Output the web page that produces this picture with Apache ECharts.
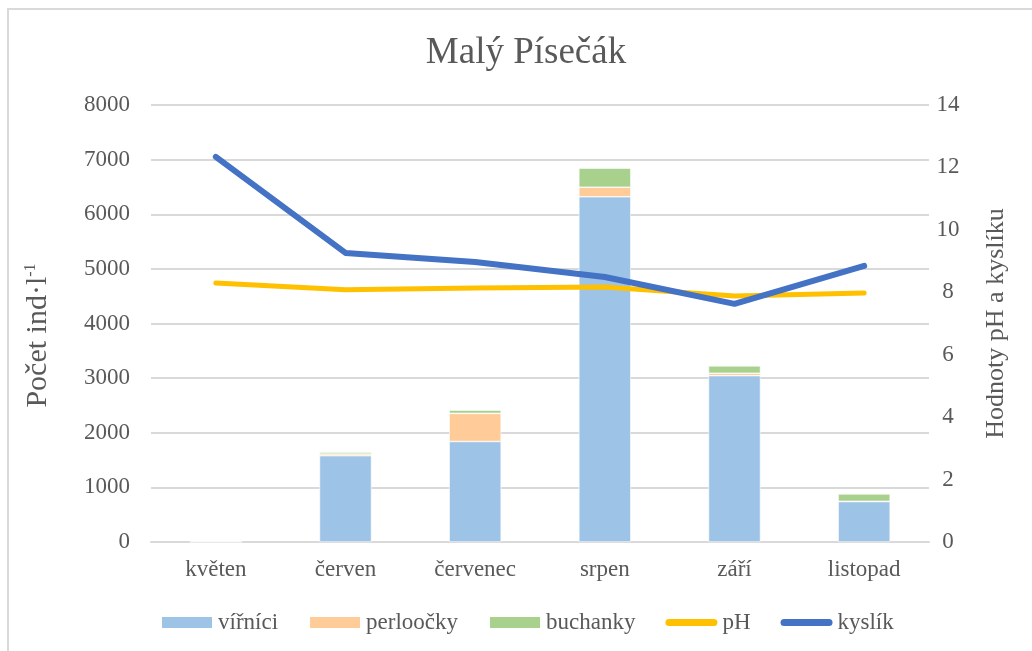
<!DOCTYPE html>
<html lang="cs">
<head>
<meta charset="UTF-8">
<title>Malý Písečák</title>
<style>
    body { margin: 0; background: #fff; }
    #frame {
        position: absolute; left: 7px; top: 8px;
        width: 1040px; height: 660px;
        border: 2px solid #d9d9d9; box-sizing: border-box;
    }
    #echart { position: absolute; left: 0; top: 0; width: 1032px; height: 651px; }
</style>
</head>
<body>
<div id="frame"></div>
<div id="echart"></div>

<script src="https://cdn.jsdelivr.net/npm/echarts@6/dist/echarts.min.js"></script>
<script>
    const months = ["květen", "červen", "červenec", "srpen", "září", "listopad"];
    const virnici = [5, 1580, 1840, 6320, 3045, 740];
    const perloocky = [3, 30, 515, 175, 45, 5];
    const buchanky = [15, 35, 60, 350, 135, 135];
    const ph = [8.3, 8.08, 8.14, 8.17, 7.88, 7.98];
    const kyslik = [12.34, 9.26, 8.97, 8.49, 7.63, 8.85];

    const font = "Liberation Serif";
    const grey = "#595959";
    const lineIcon = "path://M3.5,0 L48.5,0 A3.5,3.5 0 0 1 48.5,7 L3.5,7 A3.5,3.5 0 0 1 3.5,0 Z";

    const myChart = echarts.init(document.getElementById("echart"));

    const barSeries = (name, data, color) => ({
        name: name,
        type: "bar",
        stack: "pocet",
        barWidth: 52,
        data: data,
        itemStyle: { color: color, borderColor: "#fff", borderWidth: 0.6 }
    });

    const lineSeries = (name, data, color, width) => ({
        name: name,
        type: "line",
        yAxisIndex: 1,
        data: data,
        symbol: "none",
        lineStyle: { color: color, width: width, cap: "round", join: "round" },
        itemStyle: { color: color }
    });

    const option = {
        animation: false,
        textStyle: { fontFamily: font, color: grey },
        title: {
            text: "Malý Písečák",
            left: 521,
            textAlign: "center",
            top: 30,
            textStyle: { fontFamily: font, fontSize: 37, fontWeight: "normal", color: grey }
        },
        legend: {
            bottom: 12,
            left: 155,
            itemWidth: 52,
            itemHeight: 13,
            itemGap: 30,
            textStyle: { fontFamily: font, fontSize: 23, color: grey },
            data: [
                { name: "vířníci", icon: "rect" },
                { name: "perloočky", icon: "rect" },
                { name: "buchanky", icon: "rect" },
                { name: "pH", icon: lineIcon },
                { name: "kyslík", icon: lineIcon }
            ]
        },
        grid: { left: 151, right: 103, top: 105, bottom: 109 },
        xAxis: {
            type: "category",
            data: months,
            axisLine: { lineStyle: { color: "#d9d9d9", width: 2 } },
            axisTick: { show: false },
            axisLabel: { fontFamily: font, fontSize: 23, color: grey, margin: 16 }
        },
        yAxis: [
            {
                type: "value",
                min: 0, max: 8000, interval: 1000,
                name: "Počet ind·l{sup|-1}",
                nameLocation: "middle",
                nameRotate: 90,
                nameGap: 98,
                nameTextStyle: {
                    fontFamily: font, fontSize: 30, color: grey,
                    padding: [0, 24, 0, 0],
                    rich: { sup: { fontFamily: font, fontSize: 16, color: grey, verticalAlign: "top", padding: [0, 0, 13, 0] } }
                },
                axisLabel: { fontFamily: font, fontSize: 23, color: grey, margin: 21, formatter: (v) => String(v) },
                splitLine: { lineStyle: { color: "#d9d9d9", width: 2 } },
                axisLine: { show: false },
                axisTick: { show: false }
            },
            {
                type: "value",
                min: 0, max: 14, interval: 2,
                name: "Hodnoty pH a kyslíku",
                nameLocation: "middle",
                nameRotate: 90,
                nameGap: 54,
                nameTextStyle: { fontFamily: font, fontSize: 26, color: grey },
                axisLabel: { fontFamily: font, fontSize: 23, color: grey, margin: 19, align: "center" },
                splitLine: { show: false },
                axisLine: { show: false },
                axisTick: { show: false }
            }
        ],
        series: [
            barSeries("vířníci", virnici, "#9dc3e6"),
            barSeries("perloočky", perloocky, "#ffcc99"),
            barSeries("buchanky", buchanky, "#a9d18e"),
            lineSeries("pH", ph, "#ffc000", 5),
            lineSeries("kyslík", kyslik, "#4472c4", 6)
        ]
    };

    myChart.setOption(option);
</script>
</body>
</html>
